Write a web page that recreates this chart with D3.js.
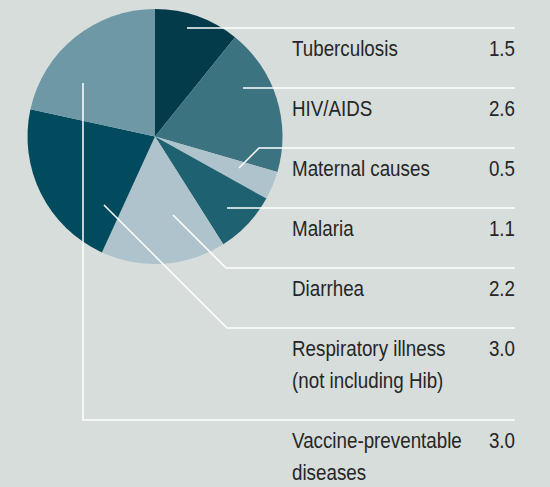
<!DOCTYPE html>
<html>
<head>
<meta charset="utf-8">
<script src="https://cdn.jsdelivr.net/npm/d3@7"></script>
<style>
  body { margin: 0; background: #d7dddb; }
  svg { display: block; }
  .label { font-family: "Liberation Sans", Arial, sans-serif; font-size: 22.5px; fill: #262626; }
</style>
</head>
<body>
<div id="chart"></div>
<script>
// Data - deaths by cause
const causes = ['Tuberculosis', 'HIV/AIDS', 'Maternal causes', 'Malaria', 'Diarrhea',
  'Respiratory illness', 'Vaccine-preventable diseases'];
const labelLines = [
  ['Tuberculosis'],
  ['HIV/AIDS'],
  ['Maternal causes'],
  ['Malaria'],
  ['Diarrhea'],
  ['Respiratory illness', '(not including Hib)'],
  ['Vaccine-preventable', 'diseases']
];
const values = [1.5, 2.6, 0.5, 1.1, 2.2, 3.0, 3.0];
const valueLabels = ['1.5', '2.6', '0.5', '1.1', '2.2', '3.0', '3.0'];

const colors = ['#033b4a', '#3b7381', '#aec3cb', '#1e6170', '#aec3cb', '#024b5e', '#6f98a6'];

const width = 550;
const height = 487;
const cx = 155, cy = 136.5, radius = 127.5;

// table layout
const tableTop = 28;
const rowHeight = 60;
const lineHeight = 32;
const textX = 292;
const ruleEnd = 515;
const narrow = 0.835; // squeeze to look like a condensed face

// leader anchors (offset from pie centre) and route type
const leaders = [
  {route: 'h', dx: 32, dy: 0},
  {route: 'h', dx: 88, dy: 0},
  {route: 'd', dx: 84, dy: 31.5},
  {route: 'h', dx: 72, dy: 0},
  {route: 'd', dx: 18, dy: 78.5},
  {route: 'd', dx: -51, dy: 68.5},
  {route: 'v', dx: -72, dy: -53.5}
];

const svg = d3.select('#chart')
  .append('svg')
    .attr('width', width)
    .attr('height', height);

// Pie
const pie = d3.pie().sort(null).value(d => d);
const arc = d3.arc().innerRadius(0).outerRadius(radius);

svg.append('g')
    .attr('transform', 'translate(' + cx + ',' + cy + ')')
  .selectAll('path')
  .data(pie(values))
  .join('path')
    .attr('d', arc)
    .attr('fill', (d, i) => colors[i]);

// Row positions
const rowY = [];
let y = tableTop;
labelLines.forEach((lines, i) => {
  rowY.push(y);
  y += rowHeight + (lines.length - 1) * lineHeight;
});

// Leader lines
const line = d3.line();
svg.append('g')
  .selectAll('path')
  .data(leaders)
  .join('path')
    .attr('fill', 'none')
    .attr('stroke', '#fff')
    .attr('stroke-width', 1.5)
    .attr('d', (d, i) => {
      const ry = rowY[i];
      const ax = cx + d.dx;
      if (d.route === 'h') return line([[ax, ry], [ruleEnd, ry]]);
      const ay = cy + d.dy;
      if (d.route === 'v') return line([[ax, ay], [ax, ry], [ruleEnd, ry]]);
      const ex = ax + Math.abs(ry - ay);
      return line([[ax, ay], [ex, ry], [ruleEnd, ry]]);
    });

// Labels
const rows = svg.append('g')
  .selectAll('g')
  .data(causes)
  .join('g')
    .attr('transform', (d, i) => 'translate(0,' + (rowY[i] + 28) + ')');

rows.append('text')
    .attr('class', 'label')
    .attr('transform', 'translate(' + textX + ',0) scale(' + narrow + ',1)')
  .selectAll('tspan')
  .data((d, i) => labelLines[i])
  .join('tspan')
    .attr('x', 0)
    .attr('dy', (d, j) => j === 0 ? 0 : lineHeight)
    .text(d => d);

rows.append('text')
    .attr('class', 'label')
    .attr('transform', 'translate(' + ruleEnd + ',0) scale(' + narrow + ',1)')
    .attr('text-anchor', 'end')
    .text((d, i) => valueLabels[i]);
</script>
</body>
</html>
